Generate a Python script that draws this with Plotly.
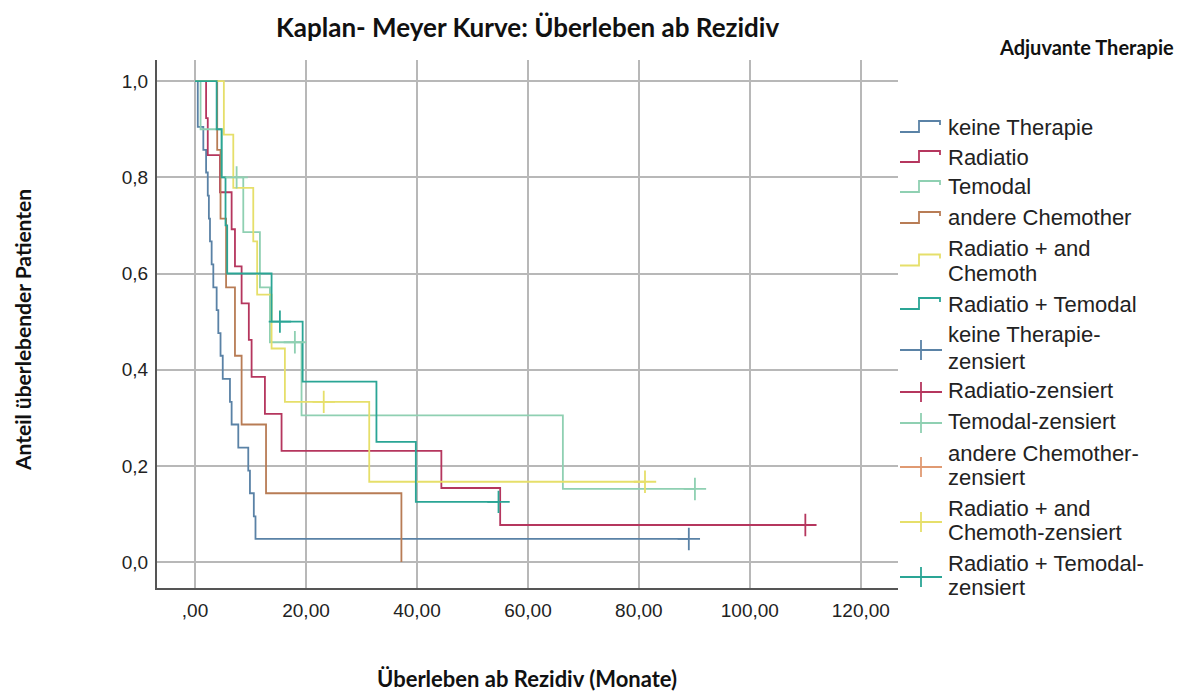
import plotly.graph_objects as go

# ---------------- data ----------------
groups = ["keine Therapie", "Radiatio", "Temodal", "andere Chemother",
          "Radiatio + and Chemoth", "Radiatio + Temodal"]

keine_t = [0, 0.5, 1.5, 2.0, 2.3, 2.5, 2.7, 3.0, 3.3, 3.9, 4.2, 4.6, 5.0, 6.3, 6.6, 7.8, 9.6, 9.9, 10.6, 10.9, 89.0]
keine_s = [1.0, 0.905, 0.857, 0.810, 0.762, 0.714, 0.667, 0.619, 0.571, 0.524, 0.476, 0.429, 0.381, 0.333,
           0.286, 0.238, 0.190, 0.143, 0.095, 0.048, 0.048]
keine_ct = [89.0]
keine_cs = [0.048]

radiatio_t = [0, 2.0, 2.3, 4.5, 6.6, 7.2, 8.4, 9.7, 10.2, 12.6, 15.6, 44.4, 55.0, 110.0]
radiatio_s = [1.0, 0.923, 0.846, 0.769, 0.692, 0.615, 0.538, 0.462, 0.385, 0.308, 0.231, 0.154, 0.077, 0.077]
radiatio_ct = [110.0]
radiatio_cs = [0.077]

temodal_t = [0, 1.0, 4.8, 8.7, 11.7, 13.5, 19.2, 66.3, 90.1]
temodal_s = [1.0, 0.9, 0.8, 0.686, 0.571, 0.457, 0.305, 0.152, 0.152]
temodal_ct = [7.5, 18.0, 90.1]
temodal_cs = [0.8, 0.457, 0.152]

andere_t = [0, 4.0, 4.6, 5.6, 7.2, 8.4, 12.8, 37.2]
andere_s = [1.0, 0.857, 0.714, 0.571, 0.429, 0.286, 0.143, 0.0]
andere_ct = []
andere_cs = []

radchem_t = [0, 5.2, 6.9, 10.5, 11.2, 13.8, 16.2, 31.4, 81.1]
radchem_s = [1.0, 0.889, 0.778, 0.667, 0.556, 0.444, 0.333, 0.167, 0.167]
radchem_ct = [23.2, 81.1]
radchem_cs = [0.333, 0.167]

radtem_t = [0, 3.9, 4.8, 5.5, 5.8, 13.8, 19.4, 32.7, 39.8, 54.7]
radtem_s = [1.0, 0.9, 0.8, 0.7, 0.6, 0.5, 0.375, 0.25, 0.125, 0.125]
radtem_ct = [15.3, 54.7]
radtem_cs = [0.5, 0.125]

x_tickvals = [0, 20, 40, 60, 80, 100, 120]
x_ticktext = [",00", "20,00", "40,00", "60,00", "80,00", "100,00", "120,00"]
y_tickvals = [0.0, 0.2, 0.4, 0.6, 0.8, 1.0]
y_ticktext = ["0,0", "0,2", "0,4", "0,6", "0,8", "1,0"]

# ---------------- styles ----------------
colors = ["#5a82a6", "#b5365e", "#8fd0b2", "#b87c55", "#e6df6a", "#2aa595"]
legend_censor_colors = ["#5a82a6", "#b5365e", "#8fd0b2", "#e09a72", "#e6df6a", "#2aa595"]

series = [
    (keine_t, keine_s, keine_ct, keine_cs),
    (radiatio_t, radiatio_s, radiatio_ct, radiatio_cs),
    (temodal_t, temodal_s, temodal_ct, temodal_cs),
    (andere_t, andere_s, andere_ct, andere_cs),
    (radchem_t, radchem_s, radchem_ct, radchem_cs),
    (radtem_t, radtem_s, radtem_ct, radtem_cs),
]

W, H = 1180, 697
L, R, T, B = 157, 898, 60, 588  # plot area in pixels

fig = go.Figure()
for (t, s, ct, cs), c, name in zip(series, colors, groups):
    fig.add_trace(go.Scatter(x=t, y=s, mode="lines", line=dict(color=c, width=1.8, shape="hv"),
                             name=name, showlegend=False, hoverinfo="skip"))
for (t, s, ct, cs), c, name in zip(series, colors, groups):
    if ct:
        fig.add_trace(go.Scatter(x=ct, y=cs, mode="markers",
                                 marker=dict(symbol="cross-thin", size=16, line=dict(color=c, width=1.8)),
                                 name=name + "-zensiert", showlegend=False, hoverinfo="skip"))

font_main = "Arial, Liberation Sans, sans-serif"
font_title = "Lato, Open Sans, sans-serif"

axis_common = dict(showgrid=True, gridcolor="#b8b8b8", gridwidth=1.5, zeroline=False,
                   showline=True, linecolor="#555555", linewidth=2, ticks="",
                   tickfont=dict(family=font_main, size=19, color="#222222"))

fig.update_layout(
    width=W, height=H,
    margin=dict(l=L, r=W - R, t=T, b=H - B, pad=0),
    paper_bgcolor="white", plot_bgcolor="white",
    showlegend=False,
    xaxis=dict(range=[-6.85, 126.7], tickvals=x_tickvals, ticktext=x_ticktext,
               ticklabelstandoff=4, **axis_common),
    yaxis=dict(range=[-0.054, 1.044], tickvals=y_tickvals, ticktext=y_ticktext,
               ticklabelstandoff=3, **axis_common),
)


def px_x(px):
    return (px - L) / (R - L)


def px_y(py):
    return (B - py) / (B - T)


ann = []
# titles
ann.append(dict(text="<b>Kaplan- Meyer Kurve: Überleben ab Rezidiv</b>", x=px_x(527), y=px_y(27),
                xref="paper", yref="paper", showarrow=False, xanchor="center", yanchor="middle",
                font=dict(family=font_title, size=26, color="#111111")))
ann.append(dict(text="<b>Adjuvante Therapie</b>", x=px_x(1086), y=px_y(47),
                xref="paper", yref="paper", showarrow=False, xanchor="center", yanchor="middle",
                font=dict(family=font_title, size=20, color="#111111")))
ann.append(dict(text="<b>Überleben ab Rezidiv (Monate)</b>", x=px_x(527), y=px_y(678),
                xref="paper", yref="paper", showarrow=False, xanchor="center", yanchor="middle",
                font=dict(family=font_title, size=22, color="#111111")))
ann.append(dict(text="<b>Anteil überlebender Patienten</b>", x=px_x(22), y=px_y(330),
                xref="paper", yref="paper", showarrow=False, xanchor="center", yanchor="middle",
                textangle=-90, font=dict(family=font_title, size=21, color="#111111")))

# manual legend
legend_entries = [
    (["keine Therapie"], [127], "step", colors[0]),
    (["Radiatio"], [157], "step", colors[1]),
    (["Temodal"], [187], "step", colors[2]),
    (["andere Chemother"], [218], "step", colors[3]),
    (["Radiatio + and", "Chemoth"], [248, 273], "step", colors[4]),
    (["Radiatio + Temodal"], [304], "step", colors[5]),
    (["keine Therapie-", "zensiert"], [335, 361], "cens", legend_censor_colors[0]),
    (["Radiatio-zensiert"], [390], "cens", legend_censor_colors[1]),
    (["Temodal-zensiert"], [421], "cens", legend_censor_colors[2]),
    (["andere Chemother-", "zensiert"], [453, 477], "cens", legend_censor_colors[3]),
    (["Radiatio + and", "Chemoth-zensiert"], [508, 532], "cens", legend_censor_colors[4]),
    (["Radiatio + Temodal-", "zensiert"], [563, 587], "cens", legend_censor_colors[5]),
]
shapes = []
for lines, ys, kind, c in legend_entries:
    cy = sum(ys) / len(ys)
    for txt, yy in zip(lines, ys):
        ann.append(dict(text=txt, x=px_x(946), y=px_y(yy), xref="paper", yref="paper",
                        showarrow=False, xanchor="left", yanchor="middle",
                        font=dict(family=font_main, size=22, color="#222222")))
    if kind == "step":
        path = (f"M {px_x(900)},{px_y(cy + 5)} H {px_x(919)} V {px_y(cy - 6)} "
                f"H {px_x(940)} V {px_y(cy - 2)}")
        shapes.append(dict(type="path", path=path, xref="paper", yref="paper",
                           line=dict(color=c, width=1.8)))
    else:
        cyc = cy + 2
        shapes.append(dict(type="line", x0=px_x(900), x1=px_x(942), y0=px_y(cyc), y1=px_y(cyc),
                           xref="paper", yref="paper", line=dict(color=c, width=1.8)))
        shapes.append(dict(type="line", x0=px_x(921), x1=px_x(921), y0=px_y(cyc - 10), y1=px_y(cyc + 10),
                           xref="paper", yref="paper", line=dict(color=c, width=1.8)))

fig.update_layout(annotations=ann, shapes=shapes)
fig.write_html("out.html", config={"displayModeBar": False},
               post_script="document.body.style.margin='0';document.body.style.overflow='hidden';")
